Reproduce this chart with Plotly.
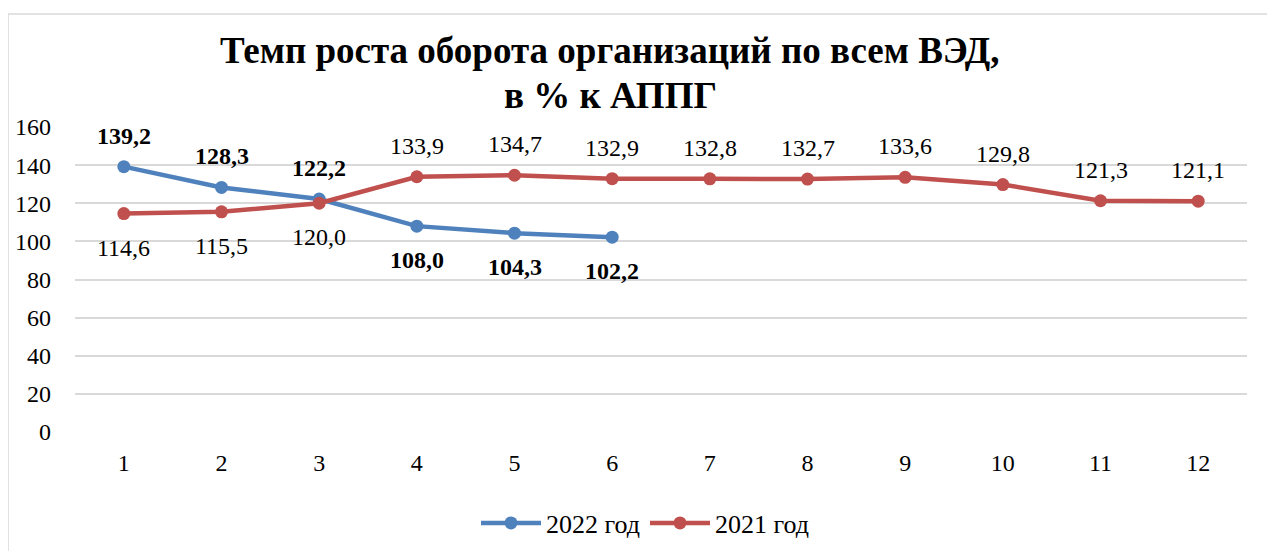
import plotly.graph_objects as go

months = [1, 2, 3, 4, 5, 6, 7, 8, 9, 10, 11, 12]
y2022 = [139.2, 128.3, 122.2, 108.0, 104.3, 102.2]
y2021 = [114.6, 115.5, 120.0, 133.9, 134.7, 132.9, 132.8, 132.7, 133.6, 129.8, 121.3, 121.1]
pos2022 = ["above"] * 3 + ["below"] * 3
pos2021 = ["below"] * 3 + ["above"] * 9
title_lines = ["Темп роста оборота организаций по всем ВЭД,", "в % к АППГ"]
yticks = [0, 20, 40, 60, 80, 100, 120, 140, 160]

FONT = "Liberation Serif"
OFF = 8  # page body margin
W, H = 1275, 551
# plot area in screen pixels
SX0, SX1, SY0, SY1 = 75, 1247, 127, 432
L = SX0 - OFF
R = W - (SX1 - OFF)
T = SY0 - OFF
B = H - (SY1 - OFF)
pw, ph = W - L - R, H - T - B

def px_x(x):
    return (x - SX0) / pw

def px_y(y):
    return (SY1 - y) / ph

def fmt(v):
    return f"{v:.1f}".replace(".", ",")

fig = go.Figure()
fig.add_trace(go.Scatter(
    x=months[:len(y2022)], y=y2022, name="2022 год", mode="lines+markers",
    line=dict(color="#4f81bd", width=4.5), marker=dict(size=13, color="#4f81bd"),
))
fig.add_trace(go.Scatter(
    x=months, y=y2021, name="2021 год", mode="lines+markers",
    line=dict(color="#c0504d", width=4.5), marker=dict(size=13, color="#c0504d"),
))

annotations = []
for xs, ys, poss, bold in [(months[:len(y2022)], y2022, pos2022, True), (months, y2021, pos2021, False)]:
    for x, y, p in zip(xs, ys, poss):
        t = fmt(y)
        if bold:
            t = "<b>" + t + "</b>"
        annotations.append(dict(x=x, y=y, xref="x", yref="y", text=t, showarrow=False,
                                xanchor="center", yanchor="middle",
                                yshift=31 if p == "above" else -34,
                                font=dict(family=FONT, size=24, color="#000000")))

annotations += [
    dict(text="<b>" + title_lines[0] + "</b>", x=px_x(610), y=px_y(50), xref="paper", yref="paper",
         xanchor="center", yanchor="middle", showarrow=False, font=dict(family=FONT, size=37)),
    dict(text="<b>" + title_lines[1] + "</b>", x=px_x(610), y=px_y(95), xref="paper", yref="paper",
         xanchor="center", yanchor="middle", showarrow=False, font=dict(family=FONT, size=37)),
]

fig.update_layout(
    width=W, height=H,
    margin=dict(l=L, r=R, t=T, b=B, autoexpand=False),
    paper_bgcolor="white", plot_bgcolor="white",
    font=dict(family=FONT, size=24, color="#000000"),
    showlegend=True,
    legend=dict(orientation="h", x=px_x(645), y=px_y(523), xanchor="center", yanchor="middle",
                itemwidth=60, font=dict(family=FONT, size=26, color="#000000")),
    xaxis=dict(range=[0.5, 12.5], tickmode="array", tickvals=months, ticktext=[str(m) for m in months],
               showgrid=False, zeroline=False, showline=False, ticks="", ticklabelstandoff=14,
               automargin=False, tickfont=dict(family=FONT, size=24)),
    yaxis=dict(range=[0, 160], tickmode="array", tickvals=yticks, ticktext=[str(t) for t in yticks],
               showgrid=True, gridcolor="#d9d9d9", gridwidth=1.5, zeroline=False, showline=False,
               ticks="", ticklabelstandoff=23, automargin=False, tickfont=dict(family=FONT, size=24)),
    annotations=annotations,
    shapes=[dict(type="rect", xref="paper", yref="paper", x0=px_x(8), x1=px_x(1290), y0=px_y(570), y1=px_y(14),
                 line=dict(color="#d9d9d9", width=1.5), fillcolor="rgba(0,0,0,0)", layer="below")],
)

fig.write_html("out.html")
